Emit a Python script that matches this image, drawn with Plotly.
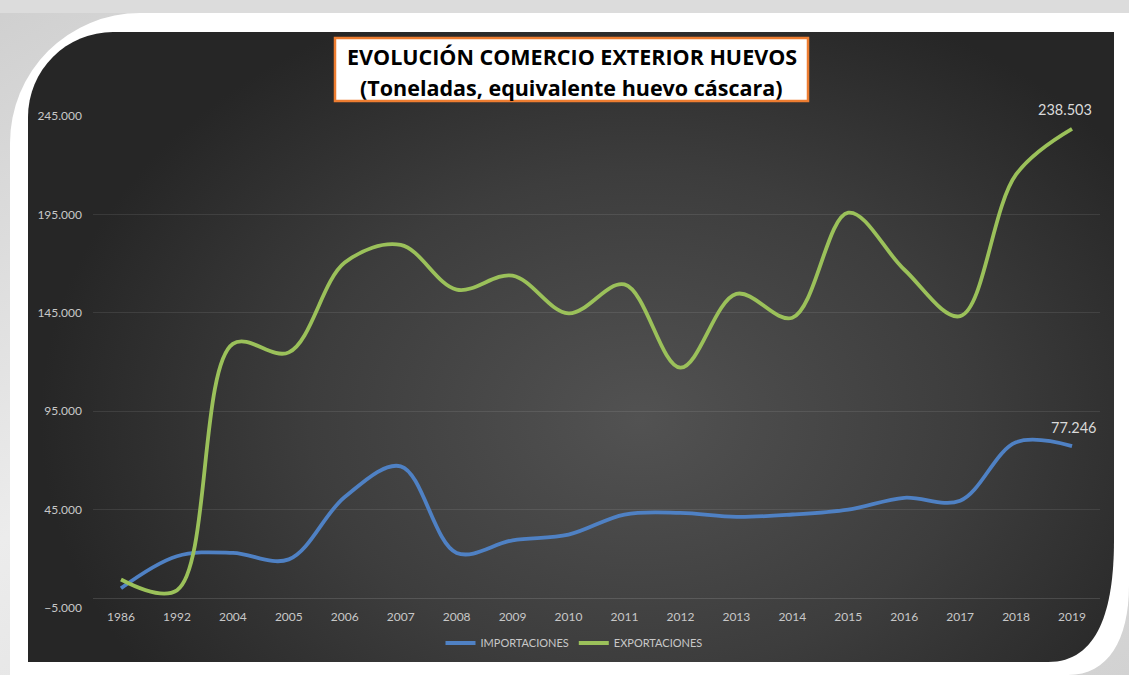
import base64
import plotly.graph_objects as go

# ---------------- data ----------------
years = ["1986", "1992", "2004", "2005", "2006", "2007", "2008", "2009", "2010",
         "2011", "2012", "2013", "2014", "2015", "2016", "2017", "2018", "2019"]
importaciones = [5000, 21300, 23000, 19700, 51400, 67000, 23000, 29400, 32300,
                 42500, 43300, 41300, 42500, 45000, 51000, 49500, 79200, 77246]
exportaciones = [9500, 4000, 129200, 124900, 170500, 179500, 156800, 163900, 144700,
                 159400, 117100, 154600, 142500, 195900, 167000, 143300, 215300, 238503]
y_ticks = [-5000, 45000, 95000, 145000, 195000, 245000]
title_lines = ["EVOLUCIÓN COMERCIO EXTERIOR HUEVOS", "(Toneladas, equivalente huevo cáscara)"]

# ---------------- geometry (pixels) ----------------
FW, FH = 1129, 675
L, R, T, B = 93, 1100, 116, 608
PW, PH = R - L, B - T


def px(x):
    return (x - L) / PW


def py(y):
    return (B - y) / PH


# background decoration as an svg image (frame + dark radial gradient)
svg = f'''<svg xmlns="http://www.w3.org/2000/svg" width="{FW}" height="{FH}" viewBox="0 0 {FW} {FH}">
<defs>
<linearGradient id="bg" x1="0" y1="0" x2="1" y2="1">
<stop offset="0" stop-color="#cfcfcf"/><stop offset="0.4" stop-color="#ececec"/><stop offset="1" stop-color="#d2d2d2"/>
</linearGradient>
<radialGradient id="dk" gradientUnits="userSpaceOnUse" cx="640" cy="420" r="600" gradientTransform="translate(640 420) scale(1 0.75) translate(-640 -420)">
<stop offset="0" stop-color="#525252"/><stop offset="0.55" stop-color="#3d3d3d"/><stop offset="1" stop-color="#262626"/>
</radialGradient>
</defs>
<rect width="{FW}" height="{FH}" fill="url(#bg)"/>
<rect x="0" y="0" width="{FW}" height="13" fill="#dcdcdc"/>
<path d="M10,675 V143 A130,130 0 0 1 140,13 H1129 V585 C1129,640 1108,675 1068,675 Z" fill="#ffffff"/>
<path d="M28,662 V117 A85,85 0 0 1 113,32 H1114 V540 C1114,610 1098,662 1048,662 Z" fill="url(#dk)"/>
</svg>'''
svg_uri = "data:image/svg+xml;base64," + base64.b64encode(svg.encode("utf-8")).decode("ascii")


def fmt(v):
    return f"{v:,.0f}".replace(",", ".")


fig = go.Figure()

fig.add_trace(go.Scatter(
    x=years, y=importaciones, name="IMPORTACIONES", mode="lines",
    line=dict(color="#4f81c4", width=3.8, shape="spline", smoothing=1.0),
))
fig.add_trace(go.Scatter(
    x=years, y=exportaciones, name="EXPORTACIONES", mode="lines",
    line=dict(color="#9bc15a", width=3.8, shape="spline", smoothing=1.0),
))

last = len(years) - 1  # category index of the last year

annotations = [
    dict(text="<b>" + title_lines[0] + "</b>", xref="paper", yref="paper",
         x=px(571.5), y=py(56.5), xanchor="center", yanchor="middle", showarrow=False,
         font=dict(family="Open Sans, sans-serif", size=21.5, color="#000000")),
    dict(text="<b>" + title_lines[1] + "</b>", xref="paper", yref="paper",
         x=px(571.5), y=py(87.5), xanchor="center", yanchor="middle", showarrow=False,
         font=dict(family="Open Sans, sans-serif", size=21.5, color="#000000")),
    dict(text=fmt(exportaciones[-1]), x=last, y=exportaciones[-1], xref="x", yref="y",
         showarrow=False, yshift=19, xshift=-7, xanchor="center", yanchor="middle",
         font=dict(family="Lato, Open Sans, sans-serif", size=14.5, color="#dadada")),
    dict(text=fmt(importaciones[-1]), x=last, y=importaciones[-1], xref="x", yref="y",
         showarrow=False, yshift=19, xshift=1, xanchor="center", yanchor="middle",
         font=dict(family="Lato, Open Sans, sans-serif", size=14.5, color="#dadada")),
]

shapes = [dict(type="rect", xref="paper", yref="paper",
               x0=px(335), x1=px(808), y0=py(101), y1=py(38),
               fillcolor="#ffffff", line=dict(color="#ed7d31", width=2.5), layer="above")]

fig.update_layout(
    width=FW, height=FH,
    margin=dict(l=L, r=FW - R, t=T, b=FH - B),
    paper_bgcolor="#ffffff",
    plot_bgcolor="rgba(0,0,0,0)",
    separators=",.",
    font=dict(family="Lato, Open Sans, sans-serif", color="#c8c8c8", size=12),
    images=[dict(source=svg_uri, xref="paper", yref="paper",
                 x=px(0), y=py(0), sizex=FW / PW, sizey=FH / PH,
                 xanchor="left", yanchor="top", sizing="stretch", layer="below")],
    xaxis=dict(type="category", range=[-0.5, len(years) - 0.5], showgrid=False,
               showline=False, ticks="", tickfont=dict(size=12, color="#c8c8c8"),
               fixedrange=True),
    yaxis=dict(range=[-5000, 245000], tickvals=y_ticks, tickformat=",d",
               showgrid=True, gridcolor="rgba(255,255,255,0.09)", gridwidth=1,
               zeroline=True, zerolinecolor="rgba(255,255,255,0.13)", zerolinewidth=1,
               showline=False, ticks="", ticklabelstandoff=10,
               tickfont=dict(size=12, color="#c8c8c8"), fixedrange=True),
    legend=dict(orientation="h", x=px(574), y=py(643), xanchor="center", yanchor="middle",
                font=dict(size=11, color="#c8c8c8"), bgcolor="rgba(0,0,0,0)",
                itemwidth=30, tracegroupgap=0),
    showlegend=True,
    shapes=shapes,
    annotations=annotations,
)

fig.write_html("out.html", config={"displayModeBar": False},
               post_script="document.body.style.margin='0px';document.body.style.overflow='hidden';")
